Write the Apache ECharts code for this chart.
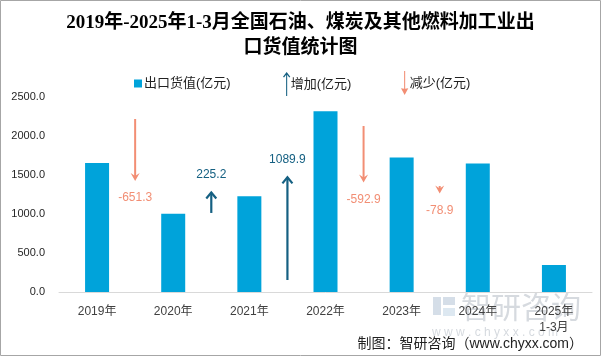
<!DOCTYPE html>
<html>
<head>
<meta charset="utf-8">
<script src="https://cdn.jsdelivr.net/npm/echarts@6/dist/echarts.min.js"></script>
<style>
html,body{margin:0;padding:0;background:#fff;}
#chart{width:601px;height:356px;}
</style>
</head>
<body>
<div id="chart"></div>
<script>
// ---- data ----
const categories = ['2019年', '2020年', '2021年', '2022年', '2023年', '2024年', '2025年\n1-3月'];
const exportValues = [1654.3, 1003.0, 1228.2, 2318.1, 1725.2, 1646.3, 346.0];
// change between consecutive years (亿元)
const changes = [-651.3, 225.2, 1089.9, -592.9, -78.9];
// start value of each change arrow on the auxiliary (hidden) axis
const arrowStarts = [1819, 831, 126, 1745, 1114];
const yTicks = [0, 500, 1000, 1500, 2000, 2500];

const BAR = '#00A3DA';
const UP = '#156082';
const DOWN = '#F28E74';
const SANS = "'Liberation Sans', 'Noto Sans CJK SC', sans-serif";

const upData = [], downData = [];
changes.forEach((c, i) => {
  const item = [i, arrowStarts[i], arrowStarts[i] + c, c];
  if (c >= 0) upData.push(item); else downData.push(item);
});

function makeRender(color, isUp) {
  return function (params, api) {
    const i = api.value(0);
    const half = api.size([1, 0])[0] / 2;
    const p0 = api.coord([i, api.value(1)]);
    const p1 = api.coord([i, api.value(2)]);
    const x = p0[0] + half;
    const y0 = p0[1], y1 = p1[1];
    const children = [];
    if (isUp) {
      children.push({ type: 'line', shape: { x1: x, y1: y0, x2: x, y2: y1 + 1 },
        style: { stroke: color, lineWidth: 2.2 } });
      children.push({ type: 'polyline', shape: { points: [[x - 5, y1 + 7], [x, y1 + 1], [x + 5, y1 + 7]] },
        style: { stroke: color, lineWidth: 2.2, fill: null } });
      children.push({ type: 'text', style: { x: x, y: y1 - 17, text: api.value(3).toFixed(1),
        fill: color, font: "12px " + SANS, textAlign: 'center', textVerticalAlign: 'middle' } });
    } else {
      children.push({ type: 'line', shape: { x1: x, y1: y0, x2: x, y2: y1 - 4 },
        style: { stroke: color, lineWidth: 2 } });
      children.push({ type: 'polygon', shape: { points: [[x, y1], [x - 4.5, y1 - 8], [x, y1 - 5], [x + 4.5, y1 - 8]] },
        style: { fill: color } });
      children.push({ type: 'text', style: { x: x, y: y1 + 17, text: api.value(3).toFixed(1),
        fill: color, font: "12px " + SANS, textAlign: 'center', textVerticalAlign: 'middle' } });
    }
    return { type: 'group', children: children };
  };
}

const chart = echarts.init(document.getElementById('chart'), null, { renderer: 'canvas' });
chart.setOption({
  animation: false,
  backgroundColor: '#fff',
  title: {
    text: '2019年-2025年1-3月全国石油、煤炭及其他燃料加工业出\n口货值统计图',
    left: 'center',
    top: 6,
    textStyle: { fontFamily: "'Liberation Serif', 'Noto Sans CJK SC', serif", fontWeight: 'bold',
      fontSize: 19, lineHeight: 25, color: '#000' }
  },
  legend: [
    { data: [{ name: '出口货值(亿元)', icon: 'rect' }], left: 129, top: 72, itemWidth: 8, itemHeight: 8,
      itemGap: 0, selectedMode: false, textStyle: { fontFamily: SANS, fontSize: 13, color: '#222', padding: [0, 0, 0, -3] } },
    { data: [{ name: '增加(亿元)', icon: 'path://M8,0 L15,9 L13,10.5 L9,5.5 L9,46 L7,46 L7,5.5 L3,10.5 L1,9 Z',
      itemStyle: { color: UP } }], left: 278, top: 67, itemWidth: 8, itemHeight: 24,
      selectedMode: false, textStyle: { fontFamily: SANS, fontSize: 13, color: '#222', padding: [0, 0, 0, -5] } },
    { data: [{ name: '减少(亿元)', icon: 'path://M7,0 L9,0 L9,34 L15,33 L8,46 L1,33 L7,34 Z',
      itemStyle: { color: DOWN } }], left: 396, top: 66, itemWidth: 8, itemHeight: 24,
      selectedMode: false, textStyle: { fontFamily: SANS, fontSize: 13, color: '#222', padding: [0, 0, 0, -4] } }
  ],
  grid: { left: 59, right: 9, top: 97, bottom: 64, containLabel: false },
  xAxis: {
    type: 'category',
    data: categories,
    axisLine: { lineStyle: { color: '#D9D9D9', width: 1 } },
    axisTick: { show: false },
    axisLabel: { margin: 12, fontFamily: SANS, fontSize: 12, color: '#404040', lineHeight: 16, interval: 0 }
  },
  yAxis: [
    {
      type: 'value', min: yTicks[0], max: yTicks[yTicks.length - 1], interval: 500,
      axisLine: { show: false }, axisTick: { show: false }, splitLine: { show: false },
      axisLabel: { margin: 14, fontFamily: SANS, fontSize: 11, color: '#262626',
        formatter: v => v.toFixed(1) }
    },
    { type: 'value', min: 0, max: 2050, show: false, splitLine: { show: false } }
  ],
  series: [
    { name: '出口货值(亿元)', type: 'bar', data: exportValues, barWidth: 24,
      itemStyle: { color: BAR }, z: 3 },
    { name: '增加(亿元)', type: 'custom', yAxisIndex: 1, data: upData,
      itemStyle: { color: UP }, renderItem: makeRender(UP, true), z: 4 },
    { name: '减少(亿元)', type: 'custom', yAxisIndex: 1, data: downData,
      itemStyle: { color: DOWN }, renderItem: makeRender(DOWN, false), z: 4 }
  ],
  graphic: [
    { type: 'rect', z: 100, silent: true, shape: { x: 0.5, y: 0.5, width: 600, height: 355 },
      style: { fill: null, stroke: '#A6A6A6', lineWidth: 1 } },
    { type: 'group', z: 0, silent: true, children: [
      { type: 'rect', shape: { x: 433, y: 297, width: 8, height: 18 }, style: { fill: '#D5DEE8' } },
      { type: 'rect', shape: { x: 443, y: 297, width: 12, height: 8 }, style: { fill: '#D5DEE8' } },
      { type: 'rect', shape: { x: 443, y: 308, width: 12, height: 8 }, style: { fill: '#DDE8F1' } },
      { type: 'text', style: { x: 461, y: 307, text: '智研咨询', font: "30px 'Noto Sans CJK SC'",
        fill: '#D6DADF', textVerticalAlign: 'middle' } },
      { type: 'text', style: { x: 432, y: 333, text: 'w w w . c h y x x . c o m', font: "12px " + SANS,
        fill: '#D6DADF', textVerticalAlign: 'middle' } }
    ] },
    { type: 'text', right: 18, top: 337, z: 50, silent: true,
      style: { text: '制图：智研咨询（www.chyxx.com）', font: "14px " + SANS, fill: '#222' } }
  ]
});
</script>
</body>
</html>
